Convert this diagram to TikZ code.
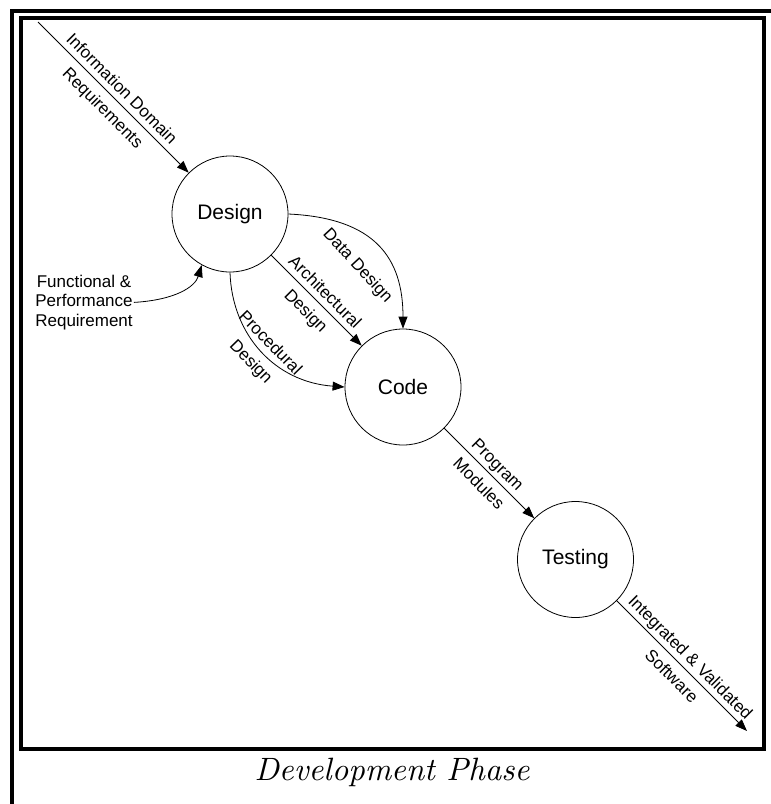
\documentclass[tikz,border=0pt]{standalone}
\usepackage{fontspec}
\newfontfamily\arialike{Liberation Sans}
\newfontfamily\captionfont{lmroman10-italic.otf}
\usetikzlibrary{arrows.meta}
\begin{document}
\begin{tikzpicture}[x=1pt,y=-1pt,
  proc/.style={circle,draw,line width=0.8pt,minimum size=116pt,inner sep=0pt,
    font=\arialike\fontsize{21}{25}\selectfont},
  flow/.style={line width=0.8pt,-{Triangle[length=12pt,width=9pt]}},
  lbl/.style={font=\arialike\fontsize{17}{19.5}\selectfont,inner sep=0pt,
    text height=12.5pt,text depth=3.5pt,sloped},
  lblabove/.style={lbl,above=2.5pt},
  lblbelow/.style={lbl,below=7.5pt},
  frame/.style={line width=4pt}]
  \useasboundingbox (0,0) rectangle (771,804);

  % double frame
  \draw[frame] (11.5,804) -- (11.5,11) -- (771,11);
  \draw[frame] (21,18) rectangle (764,748.5);

  % processes
  \node[proc] (design)  at (230,214)     {Design};
  \node[proc] (code)    at (403,387)     {Code};
  \node[proc] (testing) at (575.5,559.5) {Testing};

  \coordinate (src)  at (38,22);
  \coordinate (sink) at (747,731);

  \node[font=\arialike\fontsize{17}{19.5}\selectfont,align=center,inner sep=1pt]
    (fpr) at (84,302.4) {Functional \&\\Performance\\Requirement};

  % flows
  \draw[flow] (src) -- node[lblabove]{Information Domain}
                       node[lblbelow]{Requirements} (design.135);
  \draw[flow] (fpr.east) .. controls (175,300) and (195,287) .. (design.241);
  \draw[flow] (design.east) .. controls (375,218) and (403,258) .. (code.north)
    node[pos=0.5,lbl,below=20pt]{Data Design};
  \draw[flow] (design.-45) -- node[lblabove]{Architectural}
                              node[lblbelow]{Design} (code.135);
  \draw[flow] (design.south) .. controls (232,335) and (275,382) .. (code.west)
    node[pos=0.5,lblabove]{Procedural} node[pos=0.5,lblbelow]{Design};
  \draw[flow] (code.-45) -- node[lblabove]{Program}
                            node[lblbelow]{Modules} (testing.135);
  \draw[flow] (testing.-45) -- node[lblabove]{Integrated \& Validated}
                               node[lblbelow]{Software} (sink);

  % caption
  \node[font=\captionfont\fontsize{32.3}{38}\selectfont,anchor=base]
    (caption) at (392,780) {Development Phase};
\end{tikzpicture}
\end{document}
